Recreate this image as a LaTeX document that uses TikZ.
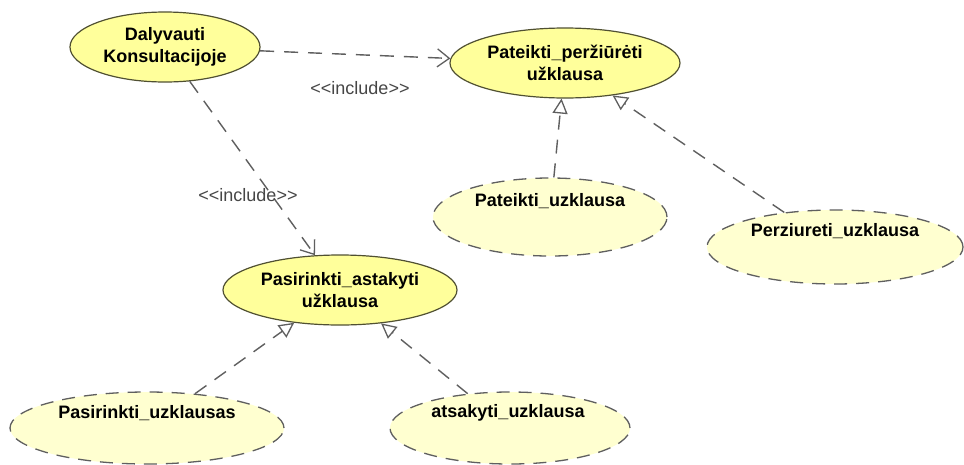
\documentclass[tikz,border=0pt]{standalone}
\usepackage{fontspec}
\setmainfont{Liberation Sans}
\usetikzlibrary{shapes.geometric,arrows.meta}
\definecolor{ucfill}{RGB}{255,255,155}
\definecolor{ucfillpale}{RGB}{255,255,208}
\definecolor{ucborder}{RGB}{80,80,50}
\definecolor{linkgray}{RGB}{95,95,95}
\definecolor{labelgray}{RGB}{70,70,70}
\tikzset{
  usecase/.style={ellipse, draw=ucborder, fill=ucfill, line width=1.2pt,
    inner sep=0pt, align=center, font=\fontsize{18}{22}\selectfont\bfseries},
  abstractcase/.style={ellipse, draw=linkgray, fill=ucfillpale, line width=1.3pt,
    inner sep=0pt, dash pattern=on 13pt off 9pt},
  casetext/.style={font=\fontsize{18}{22}\selectfont\bfseries, inner sep=0pt},
  includelink/.style={draw=linkgray, line width=1.4pt, dash pattern=on 14pt off 10pt,
    -{Straight Barb[length=12pt,width=18pt,line width=1.3pt]}},
  extendslink/.style={draw=linkgray, line width=1.4pt, dash pattern=on 14pt off 10pt,
    -{Triangle[open,length=15pt,width=15pt,line width=1.3pt,fill=white]}},
  stereo/.style={text=labelgray, font=\fontsize{18}{21}\selectfont, inner sep=1pt}
}
\newcommand{\stereotype}[1]{{<}{<}#1{>}{>}}
\begin{document}
\begin{tikzpicture}[x=1pt,y=-1pt]
  \useasboundingbox[fill=white] (0,0) rectangle (964,464);

  % concrete use cases
  \node[usecase, minimum width=190pt, minimum height=70pt] (dk) at (165,47)
    {Dalyvauti\\Konsultacijoje};
  \node[usecase, minimum width=230pt, minimum height=70pt] (pp) at (565,63)
    {Pateikti\_peržiūrėti\\užklausa};
  \node[usecase, minimum width=234pt, minimum height=70pt] (pa) at (340,290)
    {Pasirinkti\_astakyti\\užklausa};

  % abstract (dashed) use cases
  \node[abstractcase, minimum width=234pt, minimum height=78pt] (pu) at (550,217) {};
  \node[casetext] (put) at (550,201) {Pateikti\_uzklausa};
  \node[abstractcase, minimum width=256pt, minimum height=74pt] (pz) at (835,247) {};
  \node[casetext] (pzt) at (835,231) {Perziureti\_uzklausa};
  \node[abstractcase, minimum width=274pt, minimum height=72pt] (ps) at (147,428) {};
  \node[casetext] (pst) at (147,413) {Pasirinkti\_uzklausas};
  \node[abstractcase, minimum width=240pt, minimum height=72pt] (au) at (510,428) {};
  \node[casetext] (aut) at (508,413) {atsakyti\_uzklausa};

  % include relations
  \draw[includelink] (dk) -- (pp);
  \node[stereo] (inc1) at (360,88) {\stereotype{include}};
  \draw[includelink] (dk) -- (pa);
  \node[stereo] (inc2) at (248,195) {\stereotype{include}};

  % specialisations
  \draw[extendslink] (pu) -- (pp);
  \draw[extendslink] (pz) -- (pp);
  \draw[extendslink] (ps) -- (pa);
  \draw[extendslink] (au) -- (pa);
\end{tikzpicture}
\end{document}
